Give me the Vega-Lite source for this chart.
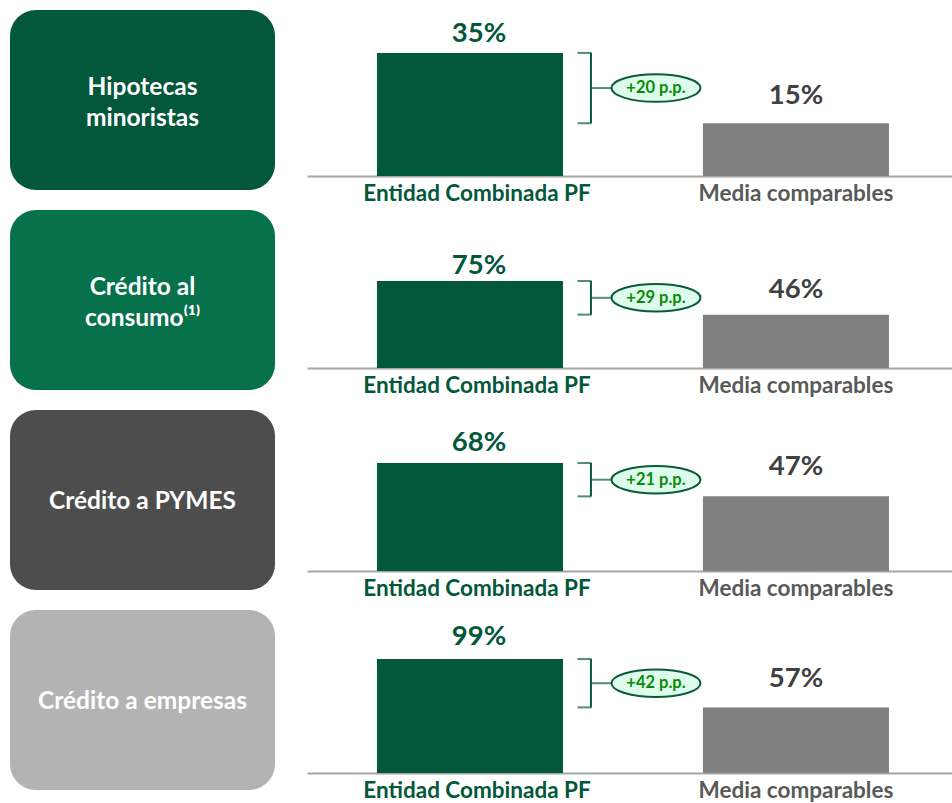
{
  "$schema": "https://vega.github.io/schema/vega-lite/v6.json",
  "padding": {"left": 10, "top": 10, "right": 0, "bottom": 0},
  "background": "white",
  "config": {
    "view": {"stroke": null},
    "font": "Lato",
    "axis": {
      "title": null,
      "domainColor": "#A6A6A6",
      "domainWidth": 2,
      "ticks": false,
      "grid": false,
      "labelAngle": 0,
      "labelFont": "Lato",
      "labelFontSize": 22.5,
      "labelFontWeight": "bold",
      "labelPadding": 6,
      "labelLimit": 400,
      "labelColor": {"condition": {"test": "datum.value === 'Entidad Combinada PF'", "value": "#03573B"}, "value": "#595959"},
      "labelOffset": {"condition": {"test": "datum.value === 'Entidad Combinada PF'", "value": 7}, "value": 0}
    }
  },
  "datasets": {
    "boxes": [
      {"cat": "Hipotecas minoristas", "label": "Hipotecas\nminoristas"},
      {"cat": "Crédito al consumo", "label": "Crédito al\nconsumo⁽¹⁾"},
      {"cat": "Crédito a PYMES", "label": "Crédito a PYMES"},
      {"cat": "Crédito a empresas", "label": "Crédito a empresas"}
    ],
    "bars": [
      {"cat": "Hipotecas minoristas", "serie": "Entidad Combinada PF", "value": 0.35, "gap": "+20 p.p."},
      {"cat": "Hipotecas minoristas", "serie": "Media comparables", "value": 0.15, "gap": "+20 p.p."},
      {"cat": "Crédito al consumo", "serie": "Entidad Combinada PF", "value": 0.75, "gap": "+29 p.p."},
      {"cat": "Crédito al consumo", "serie": "Media comparables", "value": 0.46, "gap": "+29 p.p."},
      {"cat": "Crédito a PYMES", "serie": "Entidad Combinada PF", "value": 0.68, "gap": "+21 p.p."},
      {"cat": "Crédito a PYMES", "serie": "Media comparables", "value": 0.47, "gap": "+21 p.p."},
      {"cat": "Crédito a empresas", "serie": "Entidad Combinada PF", "value": 0.99, "gap": "+42 p.p."},
      {"cat": "Crédito a empresas", "serie": "Media comparables", "value": 0.57, "gap": "+42 p.p."}
    ]
  },
  "columns": 2,
  "align": "each",
  "bounds": "flush",
  "spacing": {"row": 20, "column": 32},
  "resolve": {"scale": {"x": "independent", "y": "independent"}},
  "concat": [
    {
      "width": 265, "height": 180,
      "data": {"name": "boxes"},
      "transform": [{"filter": "datum.cat === 'Hipotecas minoristas'"}],
      "layer": [
        {"mark": {"type": "rect", "cornerRadius": 26, "color": "#03573B"}, "encoding": {}},
        {"mark": {"type": "text", "fontSize": 24.5, "fontWeight": "bold", "color": "white", "lineBreak": "\n", "lineHeight": 31, "dy": -12}, "encoding": {"text": {"field": "label"}}}
      ]
    },
    {
      "width": 645, "height": 166,
      "data": {"name": "bars"},
      "transform": [{"filter": "datum.cat === 'Hipotecas minoristas'"}],
      "encoding": {
        "x": {"field": "serie", "type": "nominal", "sort": null,
              "scale": {"domain": ["Entidad Combinada PF", "Media comparables"], "paddingInner": 0.4294, "paddingOuter": 0.204, "align": 0.526}},
        "y": {"field": "value", "type": "quantitative", "scale": {"domain": [0, 0.472]}, "axis": null}
      },
      "layer": [
        {"mark": {"type": "bar"}, "encoding": {"color": {"field": "serie", "type": "nominal", "scale": {"domain": ["Entidad Combinada PF", "Media comparables"], "range": ["#03573B", "#808080"]}, "legend": null}}},
        {"transform": [{"filter": "datum.serie === 'Entidad Combinada PF'"}], "mark": {"type": "text", "baseline": "alphabetic", "dx": 9, "dy": -11, "fontSize": 27.5, "fontWeight": "bold", "color": "#03573B"}, "encoding": {"text": {"field": "value", "type": "quantitative", "format": ".0%"}}},
        {"transform": [{"filter": "datum.serie === 'Media comparables'"}], "mark": {"type": "text", "baseline": "alphabetic", "dy": -19, "fontSize": 27.5, "fontWeight": "bold", "color": "#404040"}, "encoding": {"text": {"field": "value", "type": "quantitative", "format": ".0%"}}},
        {
          "transform": [{"aggregate": [{"op": "max", "field": "value", "as": "top"}, {"op": "min", "field": "value", "as": "bot"}, {"op": "mean", "field": "value", "as": "mid"}], "groupby": ["gap"]}],
          "layer": [
            {"mark": {"type": "rule", "xOffset": 121, "color": "#0B5A3A", "strokeWidth": 2}, "encoding": {"x": {"datum": "Entidad Combinada PF"}, "y": {"field": "top", "type": "quantitative"}, "y2": {"field": "bot"}}},
            {"mark": {"type": "tick", "xOffset": 114.5, "size": 14, "thickness": 2, "color": "#0B5A3A"}, "encoding": {"x": {"datum": "Entidad Combinada PF"}, "y": {"field": "top", "type": "quantitative"}}},
            {"mark": {"type": "tick", "xOffset": 114.5, "size": 14, "thickness": 2, "color": "#0B5A3A"}, "encoding": {"x": {"datum": "Entidad Combinada PF"}, "y": {"field": "bot", "type": "quantitative"}}},
            {"mark": {"type": "tick", "xOffset": 131.5, "size": 21, "thickness": 2, "color": "#0B5A3A"}, "encoding": {"x": {"datum": "Entidad Combinada PF"}, "y": {"field": "mid", "type": "quantitative"}}},
            {"mark": {"type": "point", "xOffset": 186, "shape": "M -1 0 A 1 0.31 0 1 1 1 0 A 1 0.31 0 1 1 -1 0 Z", "size": 7921, "filled": false, "fill": "#DDFCEB", "fillOpacity": 1, "stroke": "#0B5A3A", "strokeWidth": 2, "opacity": 1}, "encoding": {"x": {"datum": "Entidad Combinada PF"}, "y": {"field": "mid", "type": "quantitative"}}},
            {"mark": {"type": "text", "dx": 186, "fontSize": 16.5, "fontWeight": "bold", "color": "#0A8A0A", "baseline": "middle"}, "encoding": {"x": {"datum": "Entidad Combinada PF"}, "y": {"field": "mid", "type": "quantitative"}, "text": {"field": "gap"}}}
          ]
        }
      ]
    },
    {
      "width": 265, "height": 180,
      "data": {"name": "boxes"},
      "transform": [{"filter": "datum.cat === 'Crédito al consumo'"}],
      "layer": [
        {"mark": {"type": "rect", "cornerRadius": 26, "color": "#06714A"}, "encoding": {}},
        {"mark": {"type": "text", "fontSize": 24.5, "fontWeight": "bold", "color": "white", "lineBreak": "\n", "lineHeight": 31, "dy": -12}, "encoding": {"text": {"field": "label"}}}
      ]
    },
    {
      "width": 645, "height": 158,
      "data": {"name": "bars"},
      "transform": [{"filter": "datum.cat === 'Crédito al consumo'"}],
      "encoding": {
        "x": {"field": "serie", "type": "nominal", "sort": null,
              "scale": {"domain": ["Entidad Combinada PF", "Media comparables"], "paddingInner": 0.4294, "paddingOuter": 0.204, "align": 0.526}},
        "y": {"field": "value", "type": "quantitative", "scale": {"domain": [0, 1.362]}, "axis": null}
      },
      "layer": [
        {"mark": {"type": "bar"}, "encoding": {"color": {"field": "serie", "type": "nominal", "scale": {"domain": ["Entidad Combinada PF", "Media comparables"], "range": ["#03573B", "#808080"]}, "legend": null}}},
        {"transform": [{"filter": "datum.serie === 'Entidad Combinada PF'"}], "mark": {"type": "text", "baseline": "alphabetic", "dx": 9, "dy": -7, "fontSize": 27.5, "fontWeight": "bold", "color": "#03573B"}, "encoding": {"text": {"field": "value", "type": "quantitative", "format": ".0%"}}},
        {"transform": [{"filter": "datum.serie === 'Media comparables'"}], "mark": {"type": "text", "baseline": "alphabetic", "dy": -17, "fontSize": 27.5, "fontWeight": "bold", "color": "#404040"}, "encoding": {"text": {"field": "value", "type": "quantitative", "format": ".0%"}}},
        {
          "transform": [{"aggregate": [{"op": "max", "field": "value", "as": "top"}, {"op": "min", "field": "value", "as": "bot"}, {"op": "mean", "field": "value", "as": "mid"}], "groupby": ["gap"]}],
          "layer": [
            {"mark": {"type": "rule", "xOffset": 121, "color": "#0B5A3A", "strokeWidth": 2}, "encoding": {"x": {"datum": "Entidad Combinada PF"}, "y": {"field": "top", "type": "quantitative"}, "y2": {"field": "bot"}}},
            {"mark": {"type": "tick", "xOffset": 114.5, "size": 14, "thickness": 2, "color": "#0B5A3A"}, "encoding": {"x": {"datum": "Entidad Combinada PF"}, "y": {"field": "top", "type": "quantitative"}}},
            {"mark": {"type": "tick", "xOffset": 114.5, "size": 14, "thickness": 2, "color": "#0B5A3A"}, "encoding": {"x": {"datum": "Entidad Combinada PF"}, "y": {"field": "bot", "type": "quantitative"}}},
            {"mark": {"type": "tick", "xOffset": 131.5, "size": 21, "thickness": 2, "color": "#0B5A3A"}, "encoding": {"x": {"datum": "Entidad Combinada PF"}, "y": {"field": "mid", "type": "quantitative"}}},
            {"mark": {"type": "point", "xOffset": 186, "shape": "M -1 0 A 1 0.31 0 1 1 1 0 A 1 0.31 0 1 1 -1 0 Z", "size": 7921, "filled": false, "fill": "#DDFCEB", "fillOpacity": 1, "stroke": "#0B5A3A", "strokeWidth": 2, "opacity": 1}, "encoding": {"x": {"datum": "Entidad Combinada PF"}, "y": {"field": "mid", "type": "quantitative"}}},
            {"mark": {"type": "text", "dx": 186, "fontSize": 16.5, "fontWeight": "bold", "color": "#0A8A0A", "baseline": "middle"}, "encoding": {"x": {"datum": "Entidad Combinada PF"}, "y": {"field": "mid", "type": "quantitative"}, "text": {"field": "gap"}}}
          ]
        }
      ]
    },
    {
      "width": 265, "height": 180,
      "data": {"name": "boxes"},
      "transform": [{"filter": "datum.cat === 'Crédito a PYMES'"}],
      "layer": [
        {"mark": {"type": "rect", "cornerRadius": 26, "color": "#4D4D4D"}, "encoding": {}},
        {"mark": {"type": "text", "fontSize": 24.5, "fontWeight": "bold", "color": "white", "lineBreak": "\n", "lineHeight": 31, "dy": 2}, "encoding": {"text": {"field": "label"}}}
      ]
    },
    {
      "width": 645, "height": 161,
      "data": {"name": "bars"},
      "transform": [{"filter": "datum.cat === 'Crédito a PYMES'"}],
      "encoding": {
        "x": {"field": "serie", "type": "nominal", "sort": null,
              "scale": {"domain": ["Entidad Combinada PF", "Media comparables"], "paddingInner": 0.4294, "paddingOuter": 0.204, "align": 0.526}},
        "y": {"field": "value", "type": "quantitative", "scale": {"domain": [0, 1.014]}, "axis": null}
      },
      "layer": [
        {"mark": {"type": "bar"}, "encoding": {"color": {"field": "serie", "type": "nominal", "scale": {"domain": ["Entidad Combinada PF", "Media comparables"], "range": ["#03573B", "#808080"]}, "legend": null}}},
        {"transform": [{"filter": "datum.serie === 'Entidad Combinada PF'"}], "mark": {"type": "text", "baseline": "alphabetic", "dx": 9, "dy": -12, "fontSize": 27.5, "fontWeight": "bold", "color": "#03573B"}, "encoding": {"text": {"field": "value", "type": "quantitative", "format": ".0%"}}},
        {"transform": [{"filter": "datum.serie === 'Media comparables'"}], "mark": {"type": "text", "baseline": "alphabetic", "dy": -21, "fontSize": 27.5, "fontWeight": "bold", "color": "#404040"}, "encoding": {"text": {"field": "value", "type": "quantitative", "format": ".0%"}}},
        {
          "transform": [{"aggregate": [{"op": "max", "field": "value", "as": "top"}, {"op": "min", "field": "value", "as": "bot"}, {"op": "mean", "field": "value", "as": "mid"}], "groupby": ["gap"]}],
          "layer": [
            {"mark": {"type": "rule", "xOffset": 121, "color": "#0B5A3A", "strokeWidth": 2}, "encoding": {"x": {"datum": "Entidad Combinada PF"}, "y": {"field": "top", "type": "quantitative"}, "y2": {"field": "bot"}}},
            {"mark": {"type": "tick", "xOffset": 114.5, "size": 14, "thickness": 2, "color": "#0B5A3A"}, "encoding": {"x": {"datum": "Entidad Combinada PF"}, "y": {"field": "top", "type": "quantitative"}}},
            {"mark": {"type": "tick", "xOffset": 114.5, "size": 14, "thickness": 2, "color": "#0B5A3A"}, "encoding": {"x": {"datum": "Entidad Combinada PF"}, "y": {"field": "bot", "type": "quantitative"}}},
            {"mark": {"type": "tick", "xOffset": 131.5, "size": 21, "thickness": 2, "color": "#0B5A3A"}, "encoding": {"x": {"datum": "Entidad Combinada PF"}, "y": {"field": "mid", "type": "quantitative"}}},
            {"mark": {"type": "point", "xOffset": 186, "shape": "M -1 0 A 1 0.31 0 1 1 1 0 A 1 0.31 0 1 1 -1 0 Z", "size": 7921, "filled": false, "fill": "#DDFCEB", "fillOpacity": 1, "stroke": "#0B5A3A", "strokeWidth": 2, "opacity": 1}, "encoding": {"x": {"datum": "Entidad Combinada PF"}, "y": {"field": "mid", "type": "quantitative"}}},
            {"mark": {"type": "text", "dx": 186, "fontSize": 16.5, "fontWeight": "bold", "color": "#0A8A0A", "baseline": "middle"}, "encoding": {"x": {"datum": "Entidad Combinada PF"}, "y": {"field": "mid", "type": "quantitative"}, "text": {"field": "gap"}}}
          ]
        }
      ]
    },
    {
      "width": 265, "height": 180,
      "data": {"name": "boxes"},
      "transform": [{"filter": "datum.cat === 'Crédito a empresas'"}],
      "layer": [
        {"mark": {"type": "rect", "cornerRadius": 26, "color": "#B3B3B3"}, "encoding": {}},
        {"mark": {"type": "text", "fontSize": 24.5, "fontWeight": "bold", "color": "white", "lineBreak": "\n", "lineHeight": 31, "dy": 2}, "encoding": {"text": {"field": "label"}}}
      ]
    },
    {
      "width": 645, "height": 163,
      "data": {"name": "bars"},
      "transform": [{"filter": "datum.cat === 'Crédito a empresas'"}],
      "encoding": {
        "x": {"field": "serie", "type": "nominal", "sort": null,
              "scale": {"domain": ["Entidad Combinada PF", "Media comparables"], "paddingInner": 0.4294, "paddingOuter": 0.204, "align": 0.526}},
        "y": {"field": "value", "type": "quantitative", "scale": {"domain": [0, 1.416]}, "axis": null}
      },
      "layer": [
        {"mark": {"type": "bar"}, "encoding": {"color": {"field": "serie", "type": "nominal", "scale": {"domain": ["Entidad Combinada PF", "Media comparables"], "range": ["#03573B", "#808080"]}, "legend": null}}},
        {"transform": [{"filter": "datum.serie === 'Entidad Combinada PF'"}], "mark": {"type": "text", "baseline": "alphabetic", "dx": 9, "dy": -14, "fontSize": 27.5, "fontWeight": "bold", "color": "#03573B"}, "encoding": {"text": {"field": "value", "type": "quantitative", "format": ".0%"}}},
        {"transform": [{"filter": "datum.serie === 'Media comparables'"}], "mark": {"type": "text", "baseline": "alphabetic", "dy": -20, "fontSize": 27.5, "fontWeight": "bold", "color": "#404040"}, "encoding": {"text": {"field": "value", "type": "quantitative", "format": ".0%"}}},
        {
          "transform": [{"aggregate": [{"op": "max", "field": "value", "as": "top"}, {"op": "min", "field": "value", "as": "bot"}, {"op": "mean", "field": "value", "as": "mid"}], "groupby": ["gap"]}],
          "layer": [
            {"mark": {"type": "rule", "xOffset": 121, "color": "#0B5A3A", "strokeWidth": 2}, "encoding": {"x": {"datum": "Entidad Combinada PF"}, "y": {"field": "top", "type": "quantitative"}, "y2": {"field": "bot"}}},
            {"mark": {"type": "tick", "xOffset": 114.5, "size": 14, "thickness": 2, "color": "#0B5A3A"}, "encoding": {"x": {"datum": "Entidad Combinada PF"}, "y": {"field": "top", "type": "quantitative"}}},
            {"mark": {"type": "tick", "xOffset": 114.5, "size": 14, "thickness": 2, "color": "#0B5A3A"}, "encoding": {"x": {"datum": "Entidad Combinada PF"}, "y": {"field": "bot", "type": "quantitative"}}},
            {"mark": {"type": "tick", "xOffset": 131.5, "size": 21, "thickness": 2, "color": "#0B5A3A"}, "encoding": {"x": {"datum": "Entidad Combinada PF"}, "y": {"field": "mid", "type": "quantitative"}}},
            {"mark": {"type": "point", "xOffset": 186, "shape": "M -1 0 A 1 0.31 0 1 1 1 0 A 1 0.31 0 1 1 -1 0 Z", "size": 7921, "filled": false, "fill": "#DDFCEB", "fillOpacity": 1, "stroke": "#0B5A3A", "strokeWidth": 2, "opacity": 1}, "encoding": {"x": {"datum": "Entidad Combinada PF"}, "y": {"field": "mid", "type": "quantitative"}}},
            {"mark": {"type": "text", "dx": 186, "fontSize": 16.5, "fontWeight": "bold", "color": "#0A8A0A", "baseline": "middle"}, "encoding": {"x": {"datum": "Entidad Combinada PF"}, "y": {"field": "mid", "type": "quantitative"}, "text": {"field": "gap"}}}
          ]
        }
      ]
    }
  ]
}
